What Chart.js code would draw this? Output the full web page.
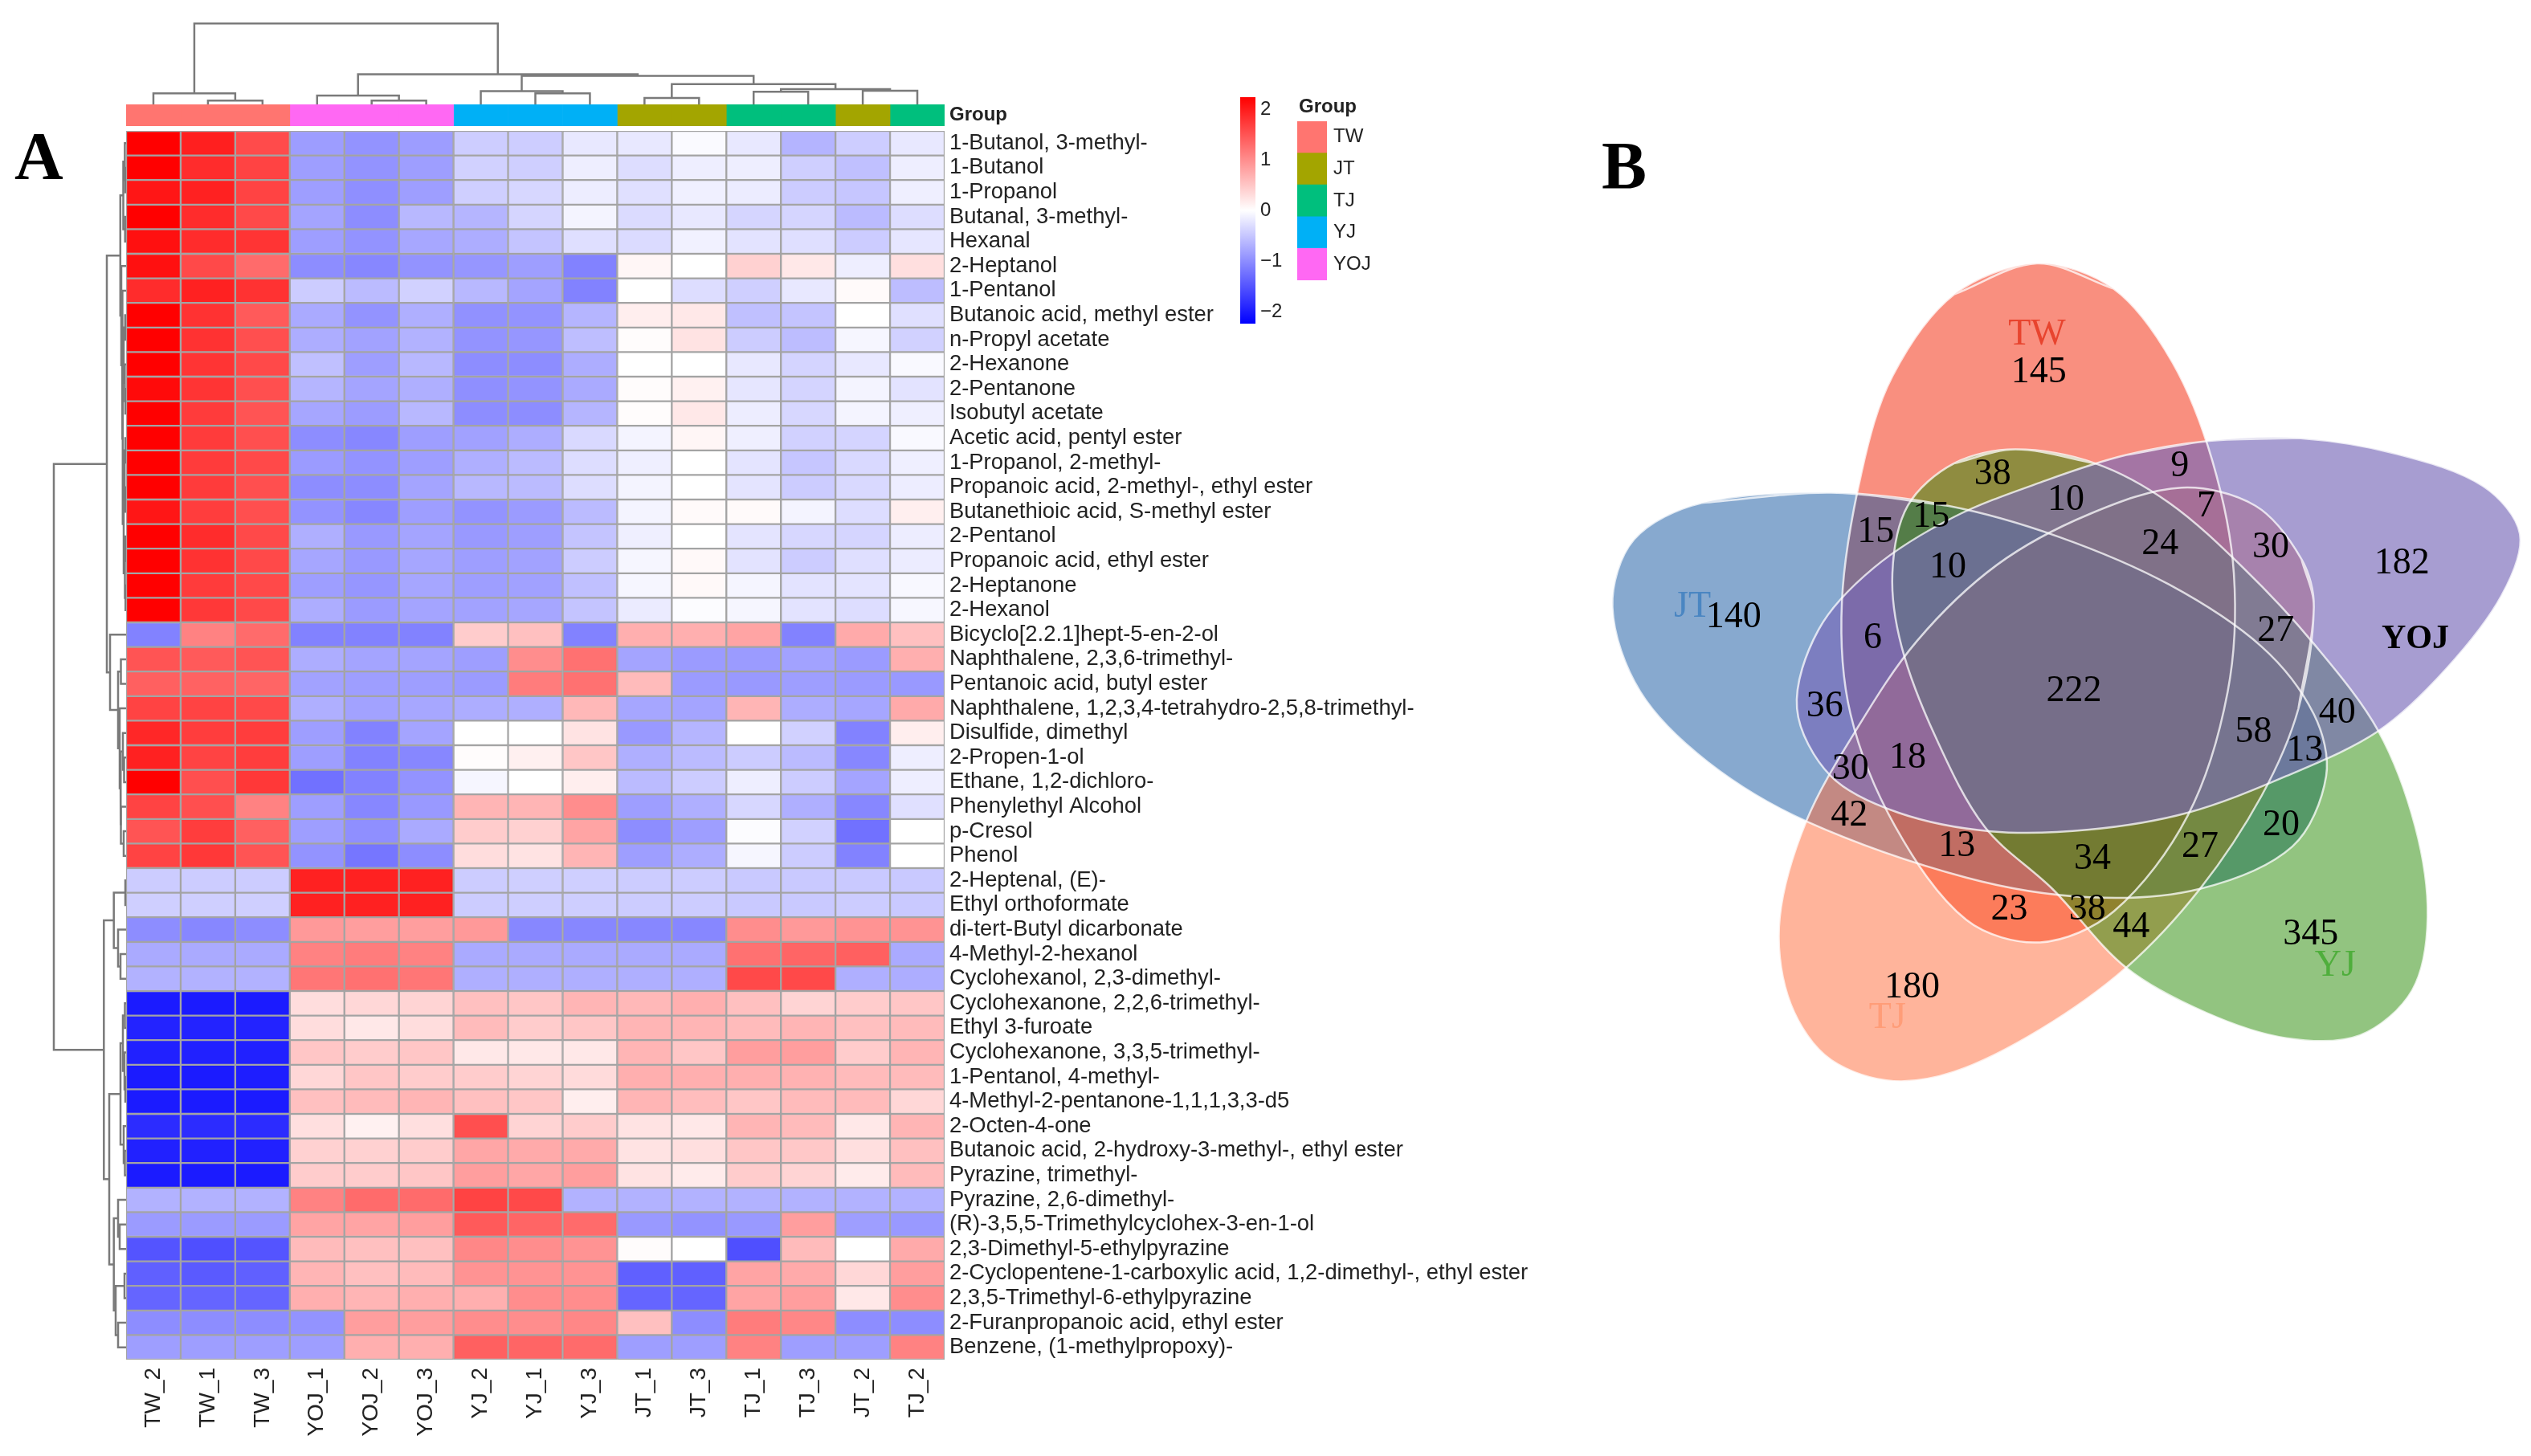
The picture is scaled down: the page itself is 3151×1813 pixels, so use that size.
<!DOCTYPE html>
<html>
<head>
<meta charset="utf-8">
<title>Heatmap and Venn diagram</title>
<script src="https://cdn.jsdelivr.net/npm/chart.js@4/dist/chart.umd.min.js"></script>
<style>
body { margin: 0; background: #fff; }
#page { position: relative; width: 3151px; height: 1813px; overflow: hidden; filter: blur(0.6px); }
#page canvas { position: absolute; }
.txt { position: absolute; white-space: nowrap; }
</style>
</head>
<body>
<div id="page">
  <div class="txt" style="left:18px;top:146px;font:bold 84px 'Liberation Serif';color:#000">A</div>
  <div class="txt" style="left:1994px;top:158px;font:bold 84px 'Liberation Serif';color:#000">B</div>
  <div class="txt" style="left:1617px;top:118px;font:bold 24px 'Liberation Sans';color:#222">Group</div>
</div>
<script>
var samples = ['TW_2','TW_1','TW_3','YOJ_1','YOJ_2','YOJ_3','YJ_2','YJ_1','YJ_3','JT_1','JT_3','TJ_1','TJ_3','JT_2','TJ_2'];
var groupNames = ['TW','JT','TJ','YJ','YOJ'];
var groupColors = ['#ff7570','#a3a500','#00bf7d','#00b0f6','#ff68f3'];
var sampleGroups = ['TW','TW','TW','YOJ','YOJ','YOJ','YJ','YJ','YJ','JT','JT','TJ','TJ','JT','TJ'];
var colorTicks = [-2,-1,0,1,2];
var colorLimit = 2.24;

var compounds = [
  '1-Butanol, 3-methyl-','1-Butanol','1-Propanol','Butanal, 3-methyl-','Hexanal','2-Heptanol','1-Pentanol',
  'Butanoic acid, methyl ester','n-Propyl acetate','2-Hexanone','2-Pentanone','Isobutyl acetate',
  'Acetic acid, pentyl ester','1-Propanol, 2-methyl-','Propanoic acid, 2-methyl-, ethyl ester',
  'Butanethioic acid, S-methyl ester','2-Pentanol','Propanoic acid, ethyl ester','2-Heptanone','2-Hexanol',
  'Bicyclo[2.2.1]hept-5-en-2-ol','Naphthalene, 2,3,6-trimethyl-','Pentanoic acid, butyl ester',
  'Naphthalene, 1,2,3,4-tetrahydro-2,5,8-trimethyl-','Disulfide, dimethyl','2-Propen-1-ol','Ethane, 1,2-dichloro-',
  'Phenylethyl Alcohol','p-Cresol','Phenol','2-Heptenal, (E)-','Ethyl orthoformate','di-tert-Butyl dicarbonate',
  '4-Methyl-2-hexanol','Cyclohexanol, 2,3-dimethyl-','Cyclohexanone, 2,2,6-trimethyl-','Ethyl 3-furoate',
  'Cyclohexanone, 3,3,5-trimethyl-','1-Pentanol, 4-methyl-','4-Methyl-2-pentanone-1,1,1,3,3-d5','2-Octen-4-one',
  'Butanoic acid, 2-hydroxy-3-methyl-, ethyl ester','Pyrazine, trimethyl-','Pyrazine, 2,6-dimethyl-',
  '(R)-3,5,5-Trimethylcyclohex-3-en-1-ol','2,3-Dimethyl-5-ethylpyrazine',
  '2-Cyclopentene-1-carboxylic acid, 1,2-dimethyl-, ethyl ester','2,3,5-Trimethyl-6-ethylpyrazine',
  '2-Furanpropanoic acid, ethyl ester','Benzene, (1-methylpropoxy)-'
];

// one row per compound, columns in the same order as samples
var zValues = [
  [2.24,1.97,1.58,-.86,-.95,-.86,-.44,-.44,-.2,-.2,-.04,-.2,-.66,-.44,-.2],
  [2.24,1.85,1.65,-.85,-.95,-.85,-.4,-.42,-.15,-.3,-.15,-.15,-.42,-.55,-.15],
  [2.05,1.95,1.65,-.85,-.98,-.85,-.42,-.35,-.16,-.27,-.13,-.17,-.45,-.5,-.14],
  [2.24,1.85,1.6,-.8,-1,-.62,-.65,-.37,-.1,-.32,-.2,-.37,-.37,-.6,-.3],
  [2.1,1.85,1.78,-.85,-.95,-.77,-.72,-.52,-.28,-.32,-.12,-.25,-.28,-.45,-.22],
  [2.1,1.6,1.3,-1,-1.05,-.95,-.92,-.85,-1.1,.08,0,.4,.2,-.15,.28],
  [1.85,1.95,1.8,-.45,-.6,-.4,-.62,-.8,-1.1,0,-.3,-.42,-.2,.04,-.58],
  [2.24,1.8,1.45,-.75,-.95,-.7,-.97,-.95,-.65,.15,.2,-.55,-.52,0,-.27],
  [2.24,1.8,1.55,-.72,-.82,-.68,-.95,-.92,-.57,.03,.25,-.45,-.58,-.08,-.4],
  [2.24,1.78,1.6,-.55,-.85,-.62,-1,-1,-.72,0,0,-.2,-.38,-.2,-.05],
  [2.15,1.78,1.55,-.65,-.8,-.7,-.98,-.95,-.75,.03,.12,-.22,-.38,-.1,-.25],
  [2.24,1.72,1.5,-.78,-.87,-.62,-1,-1,-.65,.03,.2,-.16,-.35,-.1,-.14],
  [2.24,1.72,1.55,-1,-1.05,-.85,-.83,-.72,-.33,-.1,.08,-.14,-.4,-.38,-.05],
  [2.24,1.72,1.6,-.88,-.95,-.85,-.7,-.6,-.3,-.14,0,-.24,-.5,-.33,-.14],
  [2.24,1.72,1.55,-1,-1,-.8,-.62,-.6,-.3,-.1,0,-.24,-.45,-.33,-.16],
  [2.05,1.7,1.55,-.95,-1.05,-.85,-.95,-.88,-.6,-.1,.04,.04,-.1,-.3,.14],
  [2.24,1.85,1.6,-.7,-.9,-.8,-.9,-.85,-.52,-.14,0,-.24,-.35,-.37,-.16],
  [2.24,1.8,1.6,-.78,-.9,-.78,-.85,-.82,-.45,-.08,.05,-.25,-.45,-.28,-.17],
  [2.24,1.72,1.6,-.85,-.92,-.78,-.85,-.83,-.55,-.08,.05,-.09,-.25,-.24,-.06],
  [2.24,1.75,1.6,-.72,-.88,-.8,-.82,-.78,-.52,-.18,-.03,-.08,-.25,-.3,-.07],
  [-1.1,1.1,1.3,-1.1,-1.1,-1.1,.45,.55,-1.1,.7,.7,.8,-1.1,.75,.55],
  [1.5,1.45,1.5,-.72,-.8,-.8,-.85,1,1.25,-.8,-.88,-.88,-.82,-.88,.7],
  [1.4,1.38,1.35,-.82,-.85,-.85,-.88,1.15,1.25,.6,-.88,-.9,-.85,-.88,-.9],
  [1.65,1.65,1.6,-.7,-.82,-.77,-.72,-.7,.62,-.78,-.8,.65,-.72,-.78,.75],
  [1.9,1.7,1.7,-.85,-1.1,-.8,0,0,.25,-.9,-.65,0,-.4,-1.1,.15],
  [1.95,1.65,1.7,-.85,-1.1,-1.05,.03,.13,.5,-.7,-.6,-.45,-.6,-1.05,-.15],
  [2.24,1.55,1.75,-1.25,-1.1,-.95,-.08,0,.15,-.6,-.45,-.15,-.45,-.8,-.15],
  [1.65,1.55,1.1,-.85,-1.05,-.9,.65,.65,1,-.85,-.7,-.35,-.7,-1.05,-.27],
  [1.5,1.7,1.4,-.85,-.98,-.75,.45,.4,.8,-1,-.85,-.03,-.4,-1.25,0],
  [1.65,1.75,1.5,-.95,-1.2,-1,.3,.25,.65,-.85,-.72,-.08,-.45,-1.1,0],
  [-.45,-.45,-.45,1.95,1.95,1.95,-.45,-.42,-.42,-.45,-.45,-.47,-.47,-.47,-.47],
  [-.42,-.42,-.42,1.95,1.95,1.95,-.45,-.43,-.43,-.45,-.45,-.47,-.47,-.45,-.47],
  [-1,-1.05,-1,.9,.85,.85,.9,-1.05,-1.05,-1.05,-1.05,1,.9,.95,.95],
  [-.75,-.75,-.75,1.1,1.15,1.1,-.75,-.75,-.75,-.75,-.75,1.25,1.35,1.4,-.75],
  [-.68,-.68,-.68,1.2,1.25,1.2,-.7,-.7,-.7,-.7,-.7,1.6,1.6,-.7,-.72],
  [-2,-2,-2,.3,.35,.38,.55,.5,.65,.62,.7,.55,.38,.45,.5],
  [-1.93,-1.93,-1.93,.3,.2,.3,.6,.45,.5,.65,.65,.6,.65,.55,.6],
  [-1.95,-1.95,-1.95,.5,.45,.5,.2,.2,.2,.65,.5,.85,.85,.45,.65],
  [-2,-2,-1.98,.35,.5,.45,.45,.38,.32,.7,.7,.7,.68,.6,.6],
  [-2,-2,-2,.55,.6,.65,.55,.5,.15,.65,.58,.5,.6,.6,.35],
  [-1.85,-1.85,-1.85,.28,.12,.28,1.55,.38,.45,.25,.2,.65,.6,.2,.65],
  [-1.95,-1.95,-1.95,.4,.4,.45,.78,.75,.75,.25,.28,.5,.48,.28,.55],
  [-2,-2,-2,.45,.45,.5,.85,.78,.85,.25,.18,.45,.38,.18,.6],
  [-.68,-.68,-.68,1.1,1.3,1.3,1.65,1.6,-.68,-.68,-.68,-.68,-.68,-.68,-.68],
  [-.88,-.88,-.88,.8,.8,.85,1.45,1.35,1.3,-.9,-.95,-.9,.85,-.85,-.9],
  [-1.5,-1.55,-1.5,.6,.55,.55,1.05,1,.95,.03,0,-1.55,.6,0,.75],
  [-1.4,-1.45,-1.4,.65,.55,.6,.95,.95,.95,-1.4,-1.4,.8,.75,.35,.85],
  [-1.35,-1.35,-1.35,.7,.65,.7,.7,1,1,-1.35,-1.35,.8,.85,.2,1],
  [-1,-1,-1,-.95,.85,.85,1,1,1.05,.55,-1,1.15,1.05,-1,-1],
  [-.85,-.85,-.85,-.85,.7,.7,1.4,1.35,1.3,-.85,-.85,1.1,-.85,-.85,1.1]
];

// dendrograms: [left, right, height], negative = leaf number, positive = earlier merge number
var colMerges = [
  [-2,-3,4.7],[-1,1,13.8],[-5,-6,4.7],[-4,3,11],[-8,-9,13.8],[-7,5,16.6],[-10,-11,7.9],
  [-12,-13,15.8],[-14,-15,17],[8,9,19],[7,10,25.3],[6,11,35.6],[4,12,37.6],[2,13,100.8]
];
var rowMerges = [
  [-2,-3,1],[-1,1,1.6],[-4,-5,1.3],[2,3,3.5],[-8,-9,1.2],[-11,-12,1],[-10,6,1.6],[5,7,3],
  [-13,-14,1],[-15,-16,1],[9,10,1.8],[-17,-18,.8],[-19,-20,.8],[12,13,1.5],[11,14,3],[8,15,4.2],
  [-7,16,5],[-6,17,6],[4,18,7.2],[-22,-23,6.5],[-26,-27,2.5],[-25,21,4],[-29,-30,3],[-28,23,6.5],
  [22,24,7],[-24,25,8],[20,26,10],[-21,27,20],[19,28,24],[-31,-32,1],[-34,-35,7],[-33,31,10],
  [30,32,15.3],[-36,-37,1.5],[-39,-40,1],[-38,35,2],[34,36,4],[-42,-43,1.5],[-41,38,3],[37,39,7],
  [-45,-46,8],[-44,41,10],[-47,-48,2],[-49,-50,10],[43,44,13],[42,45,15.3],[40,46,21],[33,47,27.7],
  [29,48,90]
];

// venn petals
var twPetal = [[765,40],[890,85],[985,215],[1050,390],[1085,590],[1075,800],[1010,1020],[890,1190],[770,1245],[650,1205],[535,1040],[462,840],[448,640],[480,410],[530,240],[630,95]];
var jtPetal = [[430,447],[620,470],[800,525],[980,610],[1130,720],[1215,840],[1235,950],[1180,1075],[1030,1150],[850,1165],[650,1130],[390,1030],[230,925],[120,800],[75,650],[110,530],[220,465]];
var tjPetal = [[1215,650],[1190,830],[1130,985],[1030,1150],[910,1290],[770,1400],[630,1475],[520,1490],[420,1445],[360,1340],[347,1200],[390,1030],[470,870],[570,710],[700,575],[850,485],[1000,438],[1120,470],[1195,565]];
var yjPetal = [[730,370],[860,395],[980,465],[1100,580],[1215,715],[1320,870],[1380,1040],[1400,1200],[1375,1330],[1290,1410],[1170,1415],[1040,1370],[910,1290],[790,1150],[680,1040],[600,880],[545,720],[530,590],[555,470],[630,395]];
var yojPetal = [[1045,355],[1190,350],[1350,378],[1490,435],[1550,520],[1520,630],[1430,760],[1320,870],[1170,950],[1010,1015],[850,1045],[690,1048],[540,1015],[430,950],[375,830],[410,690],[500,580],[630,490],[780,425],[910,380]];
var petalColors = ['rgba(243,31,0,0.5)','rgba(15,83,159,0.5)','rgba(255,105,55,0.5)','rgba(37,137,1,0.5)','rgba(120,105,185,0.65)'];

var vennCounts = ['145','38','9','15','15','10','7','24','30','10','182','140','27','6','222','36','40','58','18','13','30','42','20','13','27','34','23','38','44','345','180'];
var vennCountX = [768,693,997,503,593,812,1040,965,1145,620,1358,272,1153,498,825,420,1253,1117,555,1200,462,460,1162,635,1030,855,720,847,918,1210,562];
var vennCountY = [233,415,400,518,490,460,472,538,545,580,573,668,693,705,800,827,838,872,918,905,938,1020,1037,1075,1076,1098,1188,1187,1218,1232,1325];
var vennNames = ['TW','JT','TJ','YJ','YOJ'];
var vennNameX = [765,205,522,1250,1380];
var vennNameY = [167,650,1380,1287,707];
var vennNameColors = ['#e8442e','#4a86c2','#ff9d78','#4fae3c','#000000'];

function zColor(v) {
  var s = Math.min(Math.abs(v) / colorLimit, 1);
  var c = Math.round(255 * (1 - s));
  return v >= 0 ? 'rgb(255,' + c + ',' + c + ')' : 'rgb(' + c + ',' + c + ',255)';
}

function addCanvas(left, top, w, h) {
  var c = document.createElement('canvas');
  c.width = w;
  c.height = h;
  c.style.left = left + 'px';
  c.style.top = top + 'px';
  c.style.width = w + 'px';
  c.style.height = h + 'px';
  document.getElementById('page').appendChild(c);
  return c;
}

var baseOptions = {
  responsive: false,
  animation: false,
  devicePixelRatio: 1,
  layout: { padding: 0 },
  plugins: { legend: { display: false }, tooltip: { enabled: false } }
};

// keeps the plot area where it should be, whatever size the labels come out
function fixSize(prop, size) {
  return function (scale) {
    scale[prop] = size;
    scale.paddingTop = scale.paddingBottom = scale.paddingLeft = scale.paddingRight = 0;
  };
}

// turns merges into one U shaped line per merge
function dendroLines(merges, flip) {
  var pos = [];
  function place(id) { return id < 0 ? -id - 0.5 : pos[id - 1]; }
  function high(id) { return id < 0 ? 0 : merges[id - 1][2]; }
  return merges.map(function (m) {
    var a = place(m[0]), b = place(m[1]);
    pos.push((a + b) / 2);
    var pts = [[a, high(m[0])], [a, m[2]], [b, m[2]], [b, high(m[1])]];
    return {
      data: pts.map(function (p) { return flip ? { x: p[1], y: p[0] } : { x: p[0], y: p[1] }; }),
      showLine: true, borderColor: '#7a7a7a', borderWidth: 2.5, pointRadius: 0, tension: 0, clip: false
    };
  });
}

// heatmap cells
new Chart(addCanvas(157, 163, 1819, 1640), {
  type: 'bar',
  data: {
    labels: compounds,
    datasets: samples.map(function (s, j) {
      return {
        label: s,
        data: compounds.map(function () { return 1; }),
        backgroundColor: zValues.map(function (r) { return zColor(r[j]); }),
        borderColor: '#a4a4a4', borderWidth: 1.5, borderSkipped: false,
        barPercentage: 1, categoryPercentage: 1, xAxisID: 'x'
      };
    })
  },
  options: Object.assign({}, baseOptions, {
    indexAxis: 'y',
    scales: {
      x: { display: false, stacked: true, min: 0, max: samples.length },
      xs: {
        type: 'category', labels: samples, position: 'bottom', offset: true,
        grid: { display: false, drawTicks: false }, border: { display: false },
        afterFit: fixSize('height', 110),
        ticks: { autoSkip: false, minRotation: 90, maxRotation: 90, padding: 10, color: '#222', font: { family: 'Liberation Sans', size: 28 } }
      },
      y: {
        stacked: true, position: 'right',
        grid: { display: false, drawTicks: false }, border: { display: false },
        afterFit: fixSize('width', 800),
        ticks: { autoSkip: false, padding: 6, color: '#222', font: { family: 'Liberation Sans', size: 27.4 } }
      }
    }
  })
});

// group strip above the heatmap
new Chart(addCanvas(157, 130, 1119, 27), {
  type: 'bar',
  data: {
    labels: ['Group'],
    datasets: samples.map(function (s, j) {
      return {
        label: s, data: [1],
        backgroundColor: groupColors[groupNames.indexOf(sampleGroups[j])],
        barPercentage: 1, categoryPercentage: 1
      };
    })
  },
  options: Object.assign({}, baseOptions, {
    indexAxis: 'y',
    scales: {
      x: { display: false, stacked: true, min: 0, max: samples.length },
      y: {
        stacked: true, position: 'right',
        grid: { display: false, drawTicks: false }, border: { display: false },
        afterFit: fixSize('width', 100),
        ticks: { padding: 6, color: '#222', font: { family: 'Liberation Sans', size: 24, weight: 'bold' } }
      }
    }
  })
});

// top dendrogram
new Chart(addCanvas(157, 20, 1019, 110), {
  type: 'scatter',
  data: { datasets: dendroLines(colMerges, false) },
  options: Object.assign({}, baseOptions, {
    scales: {
      x: { display: false, min: 0, max: samples.length },
      y: { display: false, min: 0, max: 110 }
    }
  })
});

// left dendrogram
new Chart(addCanvas(60, 163, 97, 1530), {
  type: 'scatter',
  data: { datasets: dendroLines(rowMerges, true) },
  options: Object.assign({}, baseOptions, {
    scales: {
      x: { display: false, min: 0, max: 97, reverse: true },
      y: { display: false, min: 0, max: compounds.length, reverse: true }
    }
  })
});

// colour key
new Chart(addCanvas(1544, 121, 80, 282), {
  type: 'bar',
  data: {
    labels: ['z'],
    datasets: [{
      data: [[-colorLimit, colorLimit]],
      barPercentage: 1, categoryPercentage: 1,
      backgroundColor: function (ctx) {
        var area = ctx.chart.chartArea;
        if (!area) return '#fff';
        var g = ctx.chart.ctx.createLinearGradient(0, area.bottom, 0, area.top);
        g.addColorStop(0, zColor(-colorLimit));
        g.addColorStop(0.5, zColor(0));
        g.addColorStop(1, zColor(colorLimit));
        return g;
      }
    }]
  },
  options: Object.assign({}, baseOptions, {
    scales: {
      x: { display: false },
      y: {
        position: 'right', min: -colorLimit, max: colorLimit,
        grid: { display: false, drawTicks: false }, border: { display: false },
        afterFit: fixSize('width', 61),
        afterBuildTicks: function (scale) {
          scale.ticks = colorTicks.map(function (v) { return { value: v }; });
        },
        ticks: {
          padding: 6, color: '#222', font: { family: 'Liberation Sans', size: 24 },
          callback: function (v) { return v < 0 ? '\u2212' + Math.abs(v) : String(v); }
        }
      }
    }
  })
});

// group key
new Chart(addCanvas(1615, 151, 100, 198), {
  type: 'bar',
  data: {
    labels: groupNames,
    datasets: [{
      data: groupNames.map(function () { return 1; }),
      backgroundColor: groupColors,
      barPercentage: 1, categoryPercentage: 1
    }]
  },
  options: Object.assign({}, baseOptions, {
    indexAxis: 'y',
    scales: {
      x: { display: false, min: 0, max: 1 },
      y: {
        position: 'right',
        grid: { display: false, drawTicks: false }, border: { display: false },
        afterFit: fixSize('width', 63),
        ticks: { autoSkip: false, padding: 8, color: '#222', font: { family: 'Liberation Sans', size: 24 } }
      }
    }
  })
});

// venn diagram, axes run in the units the petals were traced in
var vennText = {
  id: 'vennText',
  afterDatasetsDraw: function (chart) {
    var c = chart.ctx, sx = chart.scales.x, sy = chart.scales.y;
    c.save();
    c.textAlign = 'center';
    c.textBaseline = 'middle';
    c.fillStyle = '#000';
    c.font = "46px 'Liberation Serif'";
    vennCounts.forEach(function (t, i) {
      c.fillText(t, sx.getPixelForValue(vennCountX[i]), sy.getPixelForValue(vennCountY[i]));
    });
    vennNames.forEach(function (t, i) {
      c.fillStyle = vennNameColors[i];
      c.font = (t === 'YOJ' ? 'bold 42px ' : '46px ') + "'Liberation Serif'";
      c.fillText(t, sx.getPixelForValue(vennNameX[i]), sy.getPixelForValue(vennNameY[i]));
    });
    c.restore();
  }
};

function petalSet(points, fillColor, line) {
  // runs a bit past the start so the curve closes without a corner
  var n = points.length;
  var loop = [points[n - 1]].concat(points, [points[0], points[1]]);
  return {
    data: loop.map(function (p) { return { x: p[0], y: p[1] }; }),
    showLine: true, tension: 0.33, pointRadius: 0,
    fill: line ? false : 'shape',
    backgroundColor: fillColor,
    borderColor: line ? 'rgba(255,255,255,0.75)' : 'transparent',
    borderWidth: line ? 2.5 : 0
  };
}

var petals = [twPetal, jtPetal, tjPetal, yjPetal, yojPetal];
var vennSets = [];
// chart.js paints the first dataset last, so outlines go first and TW goes at the end
petals.forEach(function (p) { vennSets.push(petalSet(p, 'transparent', true)); });
for (var i = petals.length - 1; i >= 0; i--) vennSets.push(petalSet(petals[i], petalColors[i], false));

new Chart(addCanvas(1950, 300, 1201, 1100), {
  type: 'scatter',
  data: { datasets: vennSets },
  options: Object.assign({}, baseOptions, {
    scales: {
      x: { display: false, min: 0, max: 1568 },
      y: { display: false, min: 0, max: 1568, reverse: true }
    }
  }),
  plugins: [vennText]
});
</script>
</body>
</html>
